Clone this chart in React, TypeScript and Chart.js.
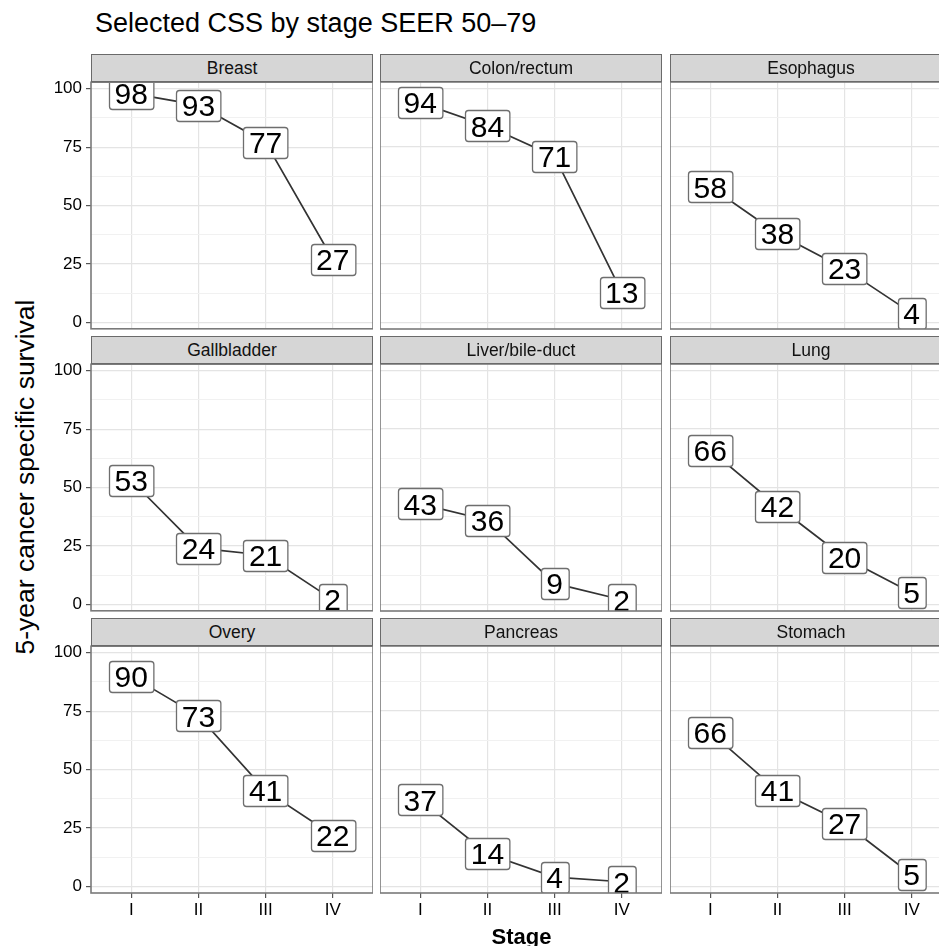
import React, { useEffect, useRef } from 'react';
import { Chart, registerables } from 'chart.js';

Chart.register(...registerables);

const FONT = '"Liberation Sans", Arial, Helvetica, sans-serif';
Chart.defaults.font.family = FONT;

// ---------- data ----------
const TITLE = 'Selected CSS by stage SEER 50–79';
const X_TITLE = 'Stage';
const Y_TITLE = '5-year cancer specific survival';
const STAGES = ['I', 'II', 'III', 'IV'];
const SITES = ['Breast', 'Colon/rectum', 'Esophagus', 'Gallbladder', 'Liver/bile-duct', 'Lung', 'Overy', 'Pancreas', 'Stomach'];
const breast = [98, 93, 77, 27];
const colonRectum = [94, 84, 71, 13];
const esophagus = [58, 38, 23, 4];
const gallbladder = [53, 24, 21, 2];
const liverBileDuct = [43, 36, 9, 2];
const lung = [66, 42, 20, 5];
const overy = [90, 73, 41, 22];
const pancreas = [37, 14, 4, 2];
const stomach = [66, 41, 27, 5];
const SURVIVAL = [breast, colonRectum, esophagus, gallbladder, liverBileDuct, lung, overy, pancreas, stomach];
const Y_MAJOR_TICKS = [0, 25, 50, 75, 100];
const Y_MINOR_TICKS = [12.5, 37.5, 62.5, 87.5];
const Y_LIMITS = [-2.8, 102.8];
const X_LIMITS = [0.4, 4.6];

// ---------- layout ----------
const COL_LEFT = [91, 380, 670];
const ROW_TOP = [82, 364, 646];
const PANEL_W = 282;
const PANEL_H = 247;
const STRIP_H = 28;
const Y_AXIS_W = 50;
const X_AXIS_H = 32;
const M = 14;

const MAJOR_GRID = '#e4e4e4';
const MINOR_GRID = '#f1f1f1';
const LABEL_FS = 30;

const labelPlugin = {
  id: 'boxLabels',
  afterDatasetsDraw(chart: any) {
    const { ctx, chartArea } = chart;
    const meta = chart.getDatasetMeta(0);
    const values = chart.data.datasets[0].data;
    const fs = LABEL_FS;
    ctx.save();
    ctx.beginPath();
    ctx.rect(chartArea.left, chartArea.top, chartArea.right - chartArea.left, chartArea.bottom - chartArea.top);
    ctx.clip();
    ctx.font = `${fs}px ${FONT}`;
    meta.data.forEach((pt: any, i: number) => {
      const text = String(values[i].y);
      const tw = ctx.measureText(text).width;
      const w = tw + 11;
      const h = 31;
      const x = Math.round(pt.x - w / 2) + 0.5;
      const y = Math.round(pt.y - h / 2) + 0.5;
      ctx.beginPath();
      ctx.roundRect(x, y, w, h, 3);
      ctx.fillStyle = '#ffffff';
      ctx.fill();
      ctx.strokeStyle = '#6e6e6e';
      ctx.lineWidth = 1.3;
      ctx.stroke();
      ctx.fillStyle = '#000000';
      ctx.textAlign = 'center';
      ctx.textBaseline = 'alphabetic';
      ctx.fillText(text, pt.x, pt.y + 0.358 * fs);
    });
    ctx.restore();
  },
  afterDraw(chart: any) {
    const { ctx, chartArea } = chart;
    ctx.save();
    ctx.strokeStyle = '#7a7a7a';
    ctx.lineWidth = 1.6;
    ctx.strokeRect(chartArea.left, chartArea.top, chartArea.right - chartArea.left, chartArea.bottom - chartArea.top);
    ctx.restore();
  },
};

function Panel({ idx }: { idx: number }) {
  const ref = useRef<HTMLCanvasElement>(null);
  const r = Math.floor(idx / 3);
  const c = idx % 3;
  const showY = c === 0;
  const showX = r === 2;
  const leftExtra = showY ? Y_AXIS_W : 0;
  const bottomExtra = showX ? X_AXIS_H : M;
  const width = PANEL_W + leftExtra;
  const height = M + PANEL_H + bottomExtra;
  const left = COL_LEFT[c] - leftExtra;
  const top = ROW_TOP[r] - M;

  useEffect(() => {
    if (!ref.current) return;
    const values = SURVIVAL[idx];
    const isMajor = (v: number) => Y_MAJOR_TICKS.includes(v);
    const chart = new Chart(ref.current, {
      type: 'line',
      data: {
        datasets: [
          {
            data: values.map((v, i) => ({ x: i + 1, y: v })),
            borderColor: '#333333',
            borderWidth: 1.7,
            pointRadius: 0,
            tension: 0,
          },
        ],
      },
      options: {
        responsive: false,
        animation: false,
        layout: { padding: { top: M, bottom: showX ? 0 : M, left: 0, right: 0 } },
        plugins: { legend: { display: false }, tooltip: { enabled: false }, title: { display: false } },
        scales: {
          x: {
            type: 'linear',
            min: X_LIMITS[0],
            max: X_LIMITS[1],
            afterBuildTicks: (s: any) => {
              s.ticks = STAGES.map((_, i) => ({ value: i + 1 }));
            },
            afterFit: (s: any) => {
              s.height = showX ? X_AXIS_H : 0;
            },
            border: { display: false },
            grid: {
              color: MAJOR_GRID,
              lineWidth: 1.2,
              drawTicks: showX,
              tickLength: 5,
              tickColor: '#555555',
              tickWidth: 1.2,
            },
            ticks: {
              display: showX,
              autoSkip: false,
              maxRotation: 0,
              padding: 2,
              color: '#000000',
              font: { size: 17, family: FONT },
              callback: (v: any) => STAGES[Math.round(Number(v)) - 1] ?? '',
            },
          },
          y: {
            type: 'linear',
            min: Y_LIMITS[0],
            max: Y_LIMITS[1],
            afterBuildTicks: (s: any) => {
              s.ticks = [...Y_MAJOR_TICKS, ...Y_MINOR_TICKS].sort((a, b) => a - b).map((v) => ({ value: v }));
            },
            afterFit: (s: any) => {
              s.width = showY ? Y_AXIS_W : 0;
            },
            border: { display: false },
            grid: {
              color: (ctx: any) => (ctx.tick && isMajor(ctx.tick.value) ? MAJOR_GRID : MINOR_GRID),
              lineWidth: (ctx: any) => (ctx.tick && isMajor(ctx.tick.value) ? 1.2 : 1),
              drawTicks: showY,
              tickLength: 5,
              tickWidth: 1.2,
              tickColor: (ctx: any) => (ctx.tick && isMajor(ctx.tick.value) ? '#555555' : 'rgba(0,0,0,0)'),
            },
            ticks: {
              display: showY,
              autoSkip: false,
              padding: 4,
              color: '#000000',
              font: { size: 17, family: FONT },
              callback: (v: any) => (isMajor(Number(v)) ? String(v) : ''),
            },
          },
        },
      },
      plugins: [labelPlugin],
    } as any);
    return () => chart.destroy();
  }, [idx]);

  return (
    <canvas
      ref={ref}
      width={width}
      height={height}
      style={{ position: 'absolute', left, top, width, height }}
    />
  );
}

function Strip({ idx }: { idx: number }) {
  const r = Math.floor(idx / 3);
  const c = idx % 3;
  return (
    <div
      style={{
        position: 'absolute',
        left: COL_LEFT[c],
        top: ROW_TOP[r] - STRIP_H,
        width: PANEL_W,
        height: STRIP_H,
        boxSizing: 'border-box',
        background: '#d6d6d6',
        border: '1.5px solid #6a6a6a',
        fontFamily: FONT,
        fontSize: 17.5,
        lineHeight: `${STRIP_H - 1}px`,
        textAlign: 'center',
        color: '#111111',
        whiteSpace: 'nowrap',
      }}
    >
      {SITES[idx]}
    </div>
  );
}

export default function App() {
  return (
    <div
      style={{
        position: 'absolute',
        left: 0,
        top: 0,
        width: 939,
        height: 946,
        overflow: 'hidden',
        background: '#ffffff',
      }}
    >
      {SITES.map((_, i) => (
        <Panel key={'p' + i} idx={i} />
      ))}
      {SITES.map((_, i) => (
        <Strip key={'s' + i} idx={i} />
      ))}
      <div
        style={{
          position: 'absolute',
          left: 95,
          top: 10,
          fontFamily: FONT,
          fontSize: 27,
          lineHeight: '27px',
          color: '#000',
          whiteSpace: 'nowrap',
        }}
      >
        {TITLE}
      </div>
      <div
        style={{
          position: 'absolute',
          left: 421.5,
          width: 200,
          top: 926,
          fontFamily: FONT,
          fontSize: 22,
          fontWeight: 'bold',
          lineHeight: '22px',
          textAlign: 'center',
          color: '#000',
          whiteSpace: 'nowrap',
        }}
      >
        {X_TITLE}
      </div>
      <div
        style={{
          position: 'absolute',
          left: 25 - 250,
          top: 477 - 13,
          width: 500,
          height: 26,
          fontFamily: FONT,
          fontSize: 26.5,
          lineHeight: '26px',
          textAlign: 'center',
          color: '#000',
          whiteSpace: 'nowrap',
          transform: 'rotate(-90deg)',
        }}
      >
        {Y_TITLE}
      </div>
    </div>
  );
}
